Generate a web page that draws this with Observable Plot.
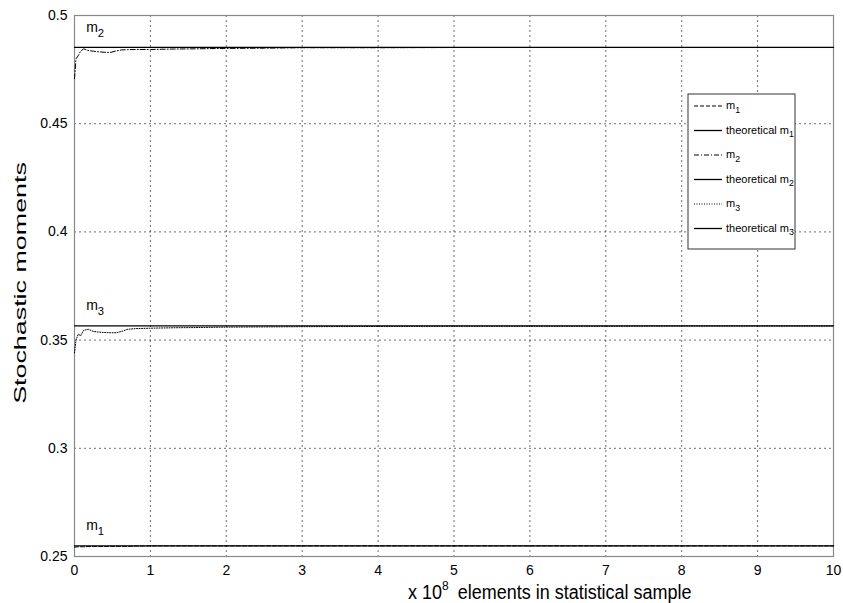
<!DOCTYPE html>
<html>
<head>
<meta charset="utf-8">
<script src="https://cdn.jsdelivr.net/npm/d3@7"></script>
<script src="https://cdn.jsdelivr.net/npm/@observablehq/plot@0.6"></script>
<style>
  body { margin: 0; background: #fff; }
  #chart { position: relative; width: 843px; height: 603px; }
  svg { font-family: "Liberation Sans", Arial, sans-serif; }
</style>
</head>
<body>
<div id="chart"></div>
<script>
// ---- data ----
const xTicks = [0, 1, 2, 3, 4, 5, 6, 7, 8, 9, 10];
const yTicks = [0.25, 0.3, 0.35, 0.4, 0.45, 0.5];
const yTickLabels = ["0.25", "0.3", "0.35", "0.4", "0.45", "0.5"];

const sampleX = [0, 0.02, 0.05, 0.08, 0.12, 0.18, 0.25, 0.32, 0.4, 0.47, 0.55, 0.62, 0.7, 0.8, 1.0, 1.3, 1.6, 2.0, 2.5, 3.0, 4, 5, 6, 7, 8, 9, 10];
const m1Values = [0.2543, 0.2544, 0.2545, 0.2545, 0.2545, 0.2546, 0.2546, 0.2546, 0.2546, 0.2547, 0.2547, 0.2547, 0.2547, 0.2548, 0.2549, 0.2549, 0.2549, 0.2549, 0.2549, 0.2549, 0.2549, 0.2549, 0.2549, 0.2549, 0.2549, 0.2549, 0.2549];
const m2Values = [0.4708, 0.4800, 0.4815, 0.4835, 0.4846, 0.4838, 0.4835, 0.4832, 0.4830, 0.4829, 0.4836, 0.4841, 0.4842, 0.4843, 0.4843, 0.4845, 0.4846, 0.4848, 0.4849, 0.4851, 0.4851, 0.4852, 0.4852, 0.4852, 0.4852, 0.4852, 0.4852];
const m3Values = [0.3441, 0.3500, 0.3528, 0.3520, 0.3545, 0.3550, 0.3540, 0.3537, 0.3535, 0.3534, 0.3534, 0.3540, 0.3550, 0.3553, 0.3555, 0.3557, 0.3558, 0.3560, 0.3561, 0.3562, 0.3563, 0.3564, 0.3564, 0.3564, 0.3565, 0.3565, 0.3565];

const theoM1 = 0.2549;
const theoM2 = 0.4853;
const theoM3 = 0.3566;

const seriesNames = ["m", "theoretical m", "m", "theoretical m", "m", "theoretical m"];
const seriesSubs = ["1", "1", "2", "2", "3", "3"];
const seriesDash = ["4,2", null, "5,2,1,2", null, "1,1.5", null];

const xLabelPre = "x 10";
const xLabelExp = "8";
const xLabelPost = "elements in statistical sample";
const yLabel = "Stochastic moments";

// ---- build ----
const toRows = (vals) => sampleX.map((x, i) => ({x, y: vals[i]}));
const theoRows = (v) => [{x: 0, y: v}, {x: 10, y: v}];

const plot = Plot.plot({
  width: 843,
  height: 603,
  marginTop: 15,
  marginBottom: 47,
  marginLeft: 74,
  marginRight: 10,
  style: {fontFamily: '"Liberation Sans", Arial, sans-serif', fontSize: "14px", color: "#000", background: "#fff"},
  x: {domain: [0, 10]},
  y: {domain: [0.25, 0.5]},
  marks: [
    Plot.gridX(xTicks.slice(1, -1), {stroke: "#333", strokeOpacity: 0.9, strokeDasharray: "2,3", strokeWidth: 0.8}),
    Plot.gridY(yTicks.slice(1, -1), {stroke: "#333", strokeOpacity: 0.9, strokeDasharray: "2,3", strokeWidth: 0.8}),
    Plot.frame({stroke: "#888", strokeWidth: 1.2}),
    Plot.axisX(xTicks, {tickSize: 0, tickPadding: 9, fontSize: 14, label: null}),
    Plot.axisY(yTicks, {tickSize: 0, tickPadding: 7, fontSize: 14, label: null, tickFormat: (d, i) => yTickLabels[i]}),
    Plot.line(toRows(m1Values), {x: "x", y: "y", stroke: "#000", strokeWidth: 1, strokeDasharray: seriesDash[0]}),
    Plot.line(toRows(m2Values), {x: "x", y: "y", stroke: "#000", strokeWidth: 1, strokeDasharray: seriesDash[2]}),
    Plot.line(toRows(m3Values), {x: "x", y: "y", stroke: "#000", strokeWidth: 1, strokeDasharray: seriesDash[4]}),
    Plot.line(theoRows(theoM1), {x: "x", y: "y", stroke: "#000", strokeWidth: 1.3}),
    Plot.line(theoRows(theoM2), {x: "x", y: "y", stroke: "#000", strokeWidth: 1.3}),
    Plot.line(theoRows(theoM3), {x: "x", y: "y", stroke: "#000", strokeWidth: 1.3})
  ]
});

document.getElementById("chart").appendChild(plot);

const svg = d3.select(plot);
const sx = plot.scale("x");
const sy = plot.scale("y");

// curve labels with subscripts
function subText(g, x, y, base, sub, size) {
  const t = g.append("text").attr("x", x).attr("y", y)
    .attr("text-anchor", "start")
    .attr("font-size", size).attr("fill", "#000");
  t.append("tspan").text(base);
  t.append("tspan").attr("dy", size * 0.35).attr("font-size", size * 0.8).text(sub);
  return t;
}
const lab = svg.append("g");
[[theoM2, "2"], [theoM3, "3"], [theoM1, "1"]].forEach(([v, s]) => {
  subText(lab, sx.apply(0.16), sy.apply(v) - 15, "m", s, 14);
});

// axis labels (reference text is vertically stretched)
const xl = svg.append("text")
  .attr("transform", "translate(408,599) scale(1,1.1)")
  .attr("text-anchor", "start")
  .attr("font-size", 18).attr("fill", "#000");
xl.append("tspan").text(xLabelPre);
xl.append("tspan").attr("dy", -8).attr("font-size", 12).text(xLabelExp);
xl.append("tspan").attr("dy", 8).attr("dx", 4).text(" " + xLabelPost);

svg.append("text")
  .attr("transform", "translate(26,283) rotate(-90) scale(1.58,1)")
  .attr("text-anchor", "middle")
  .attr("font-size", 17).attr("fill", "#000")
  .text(yLabel);

// legend
const lg = svg.append("g");
const lx = 688, ly = 94, lw = 107, lh = 155;
lg.append("rect").attr("x", lx).attr("y", ly).attr("width", lw).attr("height", lh)
  .attr("fill", "#fff").attr("stroke", "#333").attr("stroke-width", 1);
seriesNames.forEach((name, i) => {
  const cy = ly + 12 + i * 24.5;
  const ln = lg.append("line").attr("x1", lx + 6).attr("x2", lx + 34)
    .attr("y1", cy).attr("y2", cy).attr("stroke", "#000")
    .attr("stroke-width", seriesDash[i] ? 1 : 1.3);
  if (seriesDash[i]) ln.attr("stroke-dasharray", seriesDash[i]);
  subText(lg, lx + 38, cy + 3, name, seriesSubs[i], 11);
});
</script>
</body>
</html>
